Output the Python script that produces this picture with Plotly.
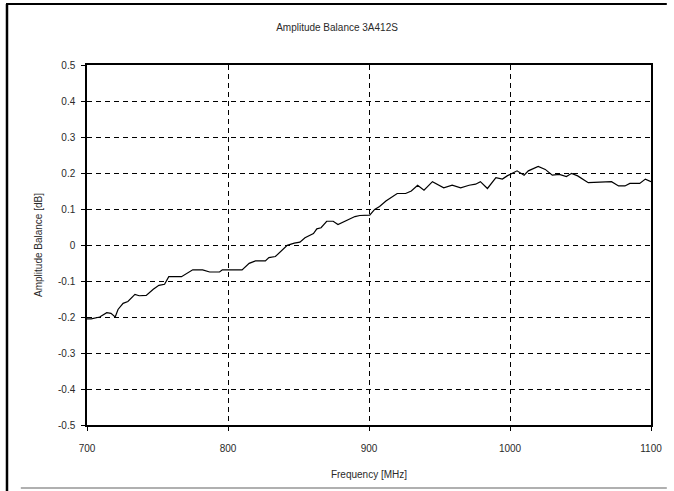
import plotly.graph_objects as go

# Data
freq_mhz = [700, 703, 709, 714, 717, 720, 722, 725.6, 729, 734, 737, 742, 747, 751, 755, 758,
            767, 771, 775, 782, 787, 794, 796, 804, 810, 815, 819.5, 826.5, 829, 833.6, 837,
            842, 847, 851, 854.6, 860.6, 863, 866, 870, 874.6, 878, 882, 885, 890, 893.5,
            900.5, 904, 907.5, 912, 916, 920, 926, 930, 934.5, 939, 945, 949.5, 953, 959,
            965, 971, 975.6, 979, 984, 990, 994.6, 998, 1001, 1005, 1010, 1013, 1020, 1025,
            1030, 1035, 1040, 1043.7, 1048, 1055.5, 1072, 1077, 1081.5, 1085, 1092, 1096, 1100]
balance_db = [-0.205, -0.205, -0.2, -0.188, -0.19, -0.2, -0.179, -0.162, -0.157, -0.137, -0.141,
              -0.14, -0.123, -0.112, -0.109, -0.088, -0.088, -0.079, -0.069, -0.069, -0.075,
              -0.075, -0.069, -0.069, -0.069, -0.051, -0.044, -0.044, -0.035, -0.032, -0.019,
              -0.001, 0.005, 0.008, 0.02, 0.032, 0.045, 0.048, 0.066, 0.066, 0.057, 0.064,
              0.071, 0.079, 0.082, 0.083, 0.099, 0.107, 0.122, 0.132, 0.143, 0.143, 0.15,
              0.166, 0.152, 0.176, 0.166, 0.159, 0.166, 0.159, 0.166, 0.169, 0.176, 0.157,
              0.187, 0.183, 0.192, 0.199, 0.206, 0.194, 0.206, 0.218, 0.21, 0.194, 0.196,
              0.19, 0.199, 0.192, 0.173, 0.176, 0.164, 0.164, 0.171, 0.171, 0.183, 0.176]

x_ticks = [700, 800, 900, 1000, 1100]
y_ticks = [-0.5, -0.4, -0.3, -0.2, -0.1, 0, 0.1, 0.2, 0.3, 0.4, 0.5]
y_tick_labels = ["-0.5", "-0.4", "-0.3", "-0.2", "-0.1", "0", "0.1", "0.2", "0.3", "0.4", "0.5"]

title_text = "Amplitude Balance 3A412S"
x_title = "Frequency [MHz]"
y_title = "Amplitude Balance [dB]"

W, H = 674, 491
ML, MR, MT, MB = 87, 16, 65, 66
FONT = "Liberation Sans Narrow, Arial Narrow, Liberation Sans, Arial, sans-serif"
TXT = "#2a2a2a"
FS = 10

fig = go.Figure()
fig.add_trace(go.Scatter(x=freq_mhz, y=balance_db, mode="lines",
                         line=dict(color="black", width=1.2), showlegend=False))

axis_common = dict(showline=True, linecolor="black", linewidth=1.5, mirror=True,
                   showgrid=True, gridcolor="black", gridwidth=1.3, griddash="5px,4px",
                   ticks="outside", ticklen=4, tickcolor="black", tickwidth=1.3,
                   zeroline=False, tickfont=dict(family=FONT, size=FS, color=TXT))

fig.update_xaxes(range=[700, 1100], tickvals=x_ticks, ticktext=[str(t) for t in x_ticks],
                 ticklabelstandoff=9,
                 title=dict(text=x_title, font=dict(family=FONT, size=FS, color=TXT), standoff=18),
                 **axis_common)
fig.update_yaxes(range=[-0.5, 0.5], tickvals=y_ticks, ticktext=y_tick_labels,
                 ticklabelstandoff=4,
                 title=dict(text=y_title, font=dict(family=FONT, size=FS, color=TXT), standoff=14),
                 **axis_common)

def px_to_paper_x(px):
    return (px - ML) / (W - ML - MR)

def px_to_paper_y(py):
    return (H - MB - py) / (H - MT - MB)

# page frame decorations
fig.add_shape(type="line", xref="paper", yref="paper",
              x0=px_to_paper_x(6), x1=px_to_paper_x(6), y0=px_to_paper_y(4), y1=px_to_paper_y(491),
              line=dict(color="black", width=2.5))
fig.add_shape(type="line", xref="paper", yref="paper",
              x0=px_to_paper_x(5), x1=px_to_paper_x(674), y0=px_to_paper_y(4), y1=px_to_paper_y(4),
              line=dict(color="black", width=2))
fig.add_shape(type="line", xref="paper", yref="paper",
              x0=px_to_paper_x(20), x1=px_to_paper_x(674), y0=px_to_paper_y(488), y1=px_to_paper_y(488),
              line=dict(color="#b0b0b0", width=2))

fig.update_layout(
    width=W, height=H,
    margin=dict(l=ML, r=MR, t=MT, b=MB, pad=0),
    paper_bgcolor="white", plot_bgcolor="white",
    title=dict(text=title_text, x=0.5, xanchor="center", xref="container",
               y=1 - 27 / H, yanchor="middle", yref="container",
               font=dict(family=FONT, size=FS, color=TXT)),
)

fig.write_html("out.html", config={"displayModeBar": False},
               post_script="document.body.style.margin='0';document.body.style.overflow='hidden';")
